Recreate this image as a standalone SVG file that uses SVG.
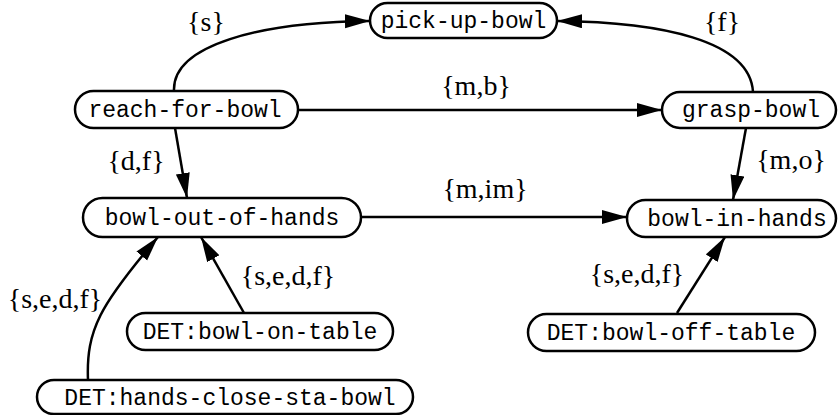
<svg xmlns="http://www.w3.org/2000/svg" width="838" height="415" viewBox="0 0 838 415">
  <style>
    .node rect { fill: #fff; stroke: #000; stroke-width: 2.5; }
    .node text { font-family: "Liberation Mono", "Courier New", monospace; font-size: 23px; text-anchor: middle; fill: #000; }
    .edge { fill: none; stroke: #000; stroke-width: 2.5; marker-end: url(#arrow); }
    .lbl { font-family: "Liberation Serif", "Times New Roman", serif; font-size: 28px; text-anchor: middle; fill: #000; }
  </style>
  <defs>
    <marker id="arrow" markerUnits="userSpaceOnUse" markerWidth="26" markerHeight="16" refX="25" refY="7" orient="auto">
      <path d="M0,0 L25,7 L0,14 z" fill="#000"/>
    </marker>
  </defs>

  <!-- connectors -->
  <g id="connectors">
    <path class="edge" d="M174,91 C172,45 260,22 370,21"/>
    <path class="edge" d="M753,92 C750,40 660,22 557,21"/>
    <path class="edge" d="M298,110 L662,110"/>
    <path class="edge" d="M175,128 L187,198"/>
    <path class="edge" d="M746,128 L733,200"/>
    <path class="edge" d="M361,217 L627,217"/>
    <path class="edge" d="M244,313 L201,237"/>
    <path class="edge" d="M88,380 C86,330 100,305 158,237"/>
    <path class="edge" d="M677,313 L725,237"/>
  </g>

  <!-- connector labels -->
  <g id="labels">
    <text class="lbl" x="206" y="31">{s}</text>
    <text class="lbl" x="722" y="31">{f}</text>
    <text class="lbl" x="476" y="95">{m,b}</text>
    <text class="lbl" x="136" y="170">{d,f}</text>
    <text class="lbl" x="791" y="169">{m,o}</text>
    <text class="lbl" x="485" y="198">{m,im}</text>
    <text class="lbl" x="55" y="308">{s,e,d,f}</text>
    <text class="lbl" x="288" y="285">{s,e,d,f}</text>
    <text class="lbl" x="637" y="283">{s,e,d,f}</text>
  </g>

  <!-- nodes -->
  <g id="pick-up-bowl" class="node">
    <rect x="370" y="3" width="187" height="35" rx="17.5"/>
    <text x="463.5" y="28">pick-up-bowl</text>
  </g>
  <g id="reach-for-bowl" class="node">
    <rect x="75" y="91" width="223" height="37" rx="18.5"/>
    <text x="185" y="117">reach-for-bowl</text>
  </g>
  <g id="grasp-bowl" class="node">
    <rect x="662" y="92" width="174" height="36" rx="18"/>
    <text x="751" y="117">grasp-bowl</text>
  </g>
  <g id="bowl-out-of-hands" class="node">
    <rect x="83" y="198" width="278" height="39" rx="19.5"/>
    <text x="222" y="225">bowl-out-of-hands</text>
  </g>
  <g id="bowl-in-hands" class="node">
    <rect x="627" y="200" width="209" height="37" rx="18.5"/>
    <text x="737" y="226">bowl-in-hands</text>
  </g>
  <g id="det-bowl-on-table" class="node">
    <rect x="127" y="313" width="266" height="37" rx="18.5"/>
    <text x="260" y="339">DET:bowl-on-table</text>
  </g>
  <g id="det-hands-close-sta-bowl" class="node">
    <rect x="37" y="380" width="376" height="34" rx="17"/>
    <text x="230" y="405">DET:hands-close-sta-bowl</text>
  </g>
  <g id="det-bowl-off-table" class="node">
    <rect x="528" y="314" width="287" height="37" rx="18.5"/>
    <text x="671" y="340">DET:bowl-off-table</text>
  </g>
</svg>
